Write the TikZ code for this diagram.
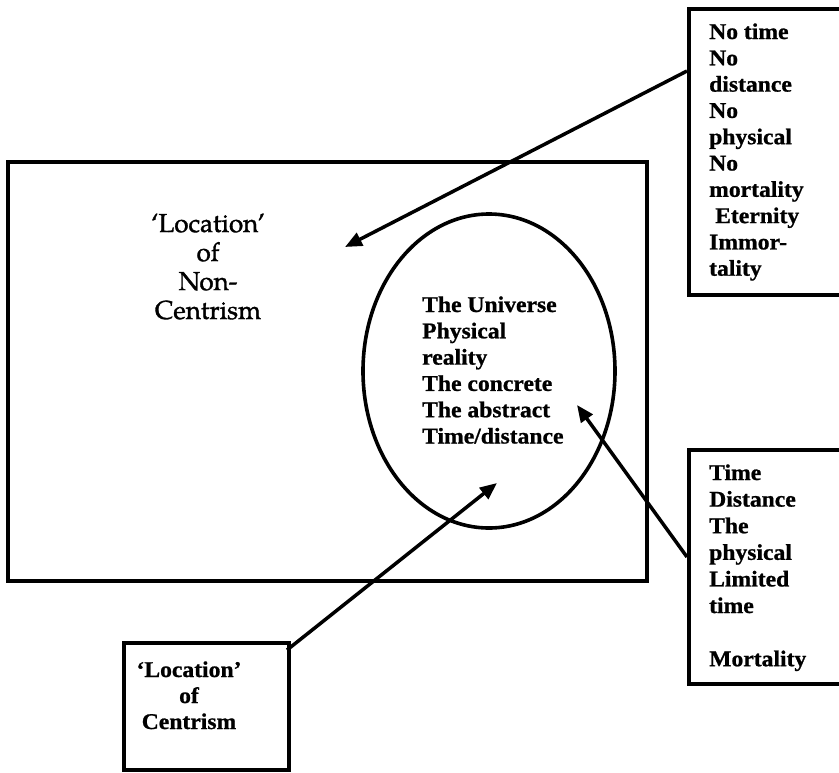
\documentclass[tikz,border=0pt]{standalone}
\usepackage{fontspec}
\usetikzlibrary{arrows.meta,shapes.geometric}
\newfontfamily\tbf{Liberation Serif}[FakeStretch=1.05,FakeBold=0.9]
\newfontfamily\pal{TeX Gyre Pagella}[FakeBold=1.3]
\tikzset{
  boxline/.style={draw=black, line width=4.2pt, rectangle, inner sep=0pt, anchor=north west},
  ovalline/.style={draw=black, line width=3.6pt, ellipse, inner sep=0pt},
  arr/.style={draw=black, line width=3.5pt, -{Triangle[length=17pt,width=14pt]}},
  bt/.style={font=\tbf\bfseries\fontsize{22.5}{26.5}\selectfont, inner sep=0pt},
  pt/.style={font=\pal\fontsize{26}{29}\selectfont, inner sep=0pt, anchor=base},
}
\begin{document}
\begin{tikzpicture}[x=1pt,y=-1pt]
\useasboundingbox (0,0) rectangle (839,772);
% boxes
\node[boxline, minimum width=639pt, minimum height=419pt] (outer) at (6,160) {};
\node[boxline, minimum width=200pt, minimum height=286pt] (nobox) at (687,7) {};
\node[boxline, minimum width=200pt, minimum height=234pt] (tbox) at (687,448) {};
\node[boxline, minimum width=165pt, minimum height=127pt] (cbox) at (122,641) {};
\node[ovalline, minimum width=252pt, minimum height=314pt] (univ) at (489,371) {};
% texts
\foreach \t [count=\i] in {No time, No, distance, No, physical, No, mortality, \hspace{6pt}Eternity, Immor-, tality}
  \node[bt, anchor=base west] (no\i) at (709,{39+(\i-1)*26.3}) {\t};
\foreach \t [count=\i] in {The Universe, Physical, reality, The concrete, The abstract, Time/distance}
  \node[bt, anchor=base west] (un\i) at (422,{312+(\i-1)*26.3}) {\t};
\foreach \t/\k in {Time/0, Distance/1, The/2, physical/3, Limited/4, time/5, Mortality/7}
  \node[bt, anchor=base west] (tm\k) at (709,{480+\k*26.6}) {\t};
\foreach \t [count=\i] in {‘Location’, of, Non-, Centrism}
  \node[pt] (nc\i) at (208,{232+(\i-1)*29}) {\t};
\foreach \t [count=\i] in {‘Location’, of, Centrism}
  \node[bt, anchor=base] (ce\i) at (189,{677+(\i-1)*26}) {\t};
% arrows
\coordinate (a1s) at (687,71);
\coordinate (a1e) at (345,247);
\coordinate (a2s) at (687,557);
\coordinate (a2e) at (577,405);
\coordinate (a3s) at (287,650);
\coordinate (a3e) at (497,483);
\draw[arr] (a1s) -- (a1e);
\draw[arr] (a2s) -- (a2e);
\draw[arr] (a3s) -- (a3e);
\end{tikzpicture}
\end{document}
